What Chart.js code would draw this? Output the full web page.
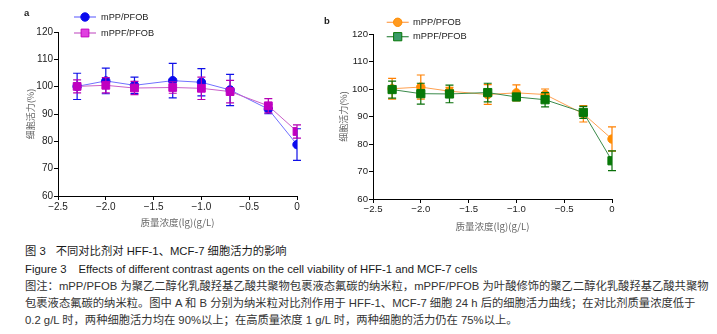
<!DOCTYPE html>
<html><head><meta charset="utf-8">
<script src="https://cdn.jsdelivr.net/npm/chart.js@4/dist/chart.umd.min.js"></script>
<style>
html,body{margin:0;padding:0;background:#fff;}
body{width:717px;height:334px;position:relative;overflow:hidden;font-family:"Liberation Sans",Arial,"Noto Sans CJK SC",sans-serif;}
canvas{position:absolute;top:0;}
.cap{position:absolute;left:25px;white-space:nowrap;line-height:14px;font-size:11.3px;color:#1a1a1a;}
.note{color:#333;}
.just{text-align:justify;text-align-last:justify;}
.panel{position:absolute;font-family:"Liberation Sans",Arial,sans-serif;font-size:9.5px;font-weight:bold;color:#222;line-height:10px;}
</style></head><body>
<canvas id="ca" width="320" height="232" style="left:0;width:320px;height:232px"></canvas>
<canvas id="cb" width="320" height="235" style="left:320px;width:320px;height:235px"></canvas>
<div class="panel" style="left:24px;top:8px">a</div>
<div class="panel" style="left:324px;top:16px">b</div>
<div class="cap" style="top:244px">图 3<span style="display:inline-block;width:10px"></span>不同对比剂对 HFF-1、MCF-7 细胞活力的影响</div>
<div class="cap" style="top:262px">Figure 3<span style="display:inline-block;width:12px"></span>Effects of different contrast agents on the cell viability of HFF-1 and MCF-7 cells</div>
<div class="cap note just" style="top:279px;width:662px">图注：mPP/PFOB 为聚乙二醇化乳酸羟基乙酸共聚物包裹液态氟碳的纳米粒，mPPF/PFOB 为叶酸修饰的聚乙二醇化乳酸羟基乙酸共聚物</div>
<div class="cap note just" style="top:296px;width:654px">包裹液态氟碳的纳米粒。图中 A 和 B 分别为纳米粒对比剂作用于 HFF-1、MCF-7 细胞 24 h 后的细胞活力曲线；在对比剂质量浓度低于</div>
<div class="cap note" style="top:313px">0.2 g/L 时，两种细胞活力均在 90%以上；在高质量浓度 1 g/L 时，两种细胞的活力仍在 75%以上。</div>
<script>
// ---- data ----
const seriesNames = ['mPP/PFOB', 'mPPF/PFOB'];
const logConc = [-2.3, -2.0, -1.7, -1.3, -1.0, -0.7, -0.3, 0];
const xTickLabels = ['\u22122.5', '\u22122.0', '\u22121.5', '\u22121.0', '\u22120.5', '0'];
const yTickLabels = ['60', '70', '80', '90', '100', '110', '120'];
const xTitle = '质量浓度(lg)(g/L)';
const yTitle = '细胞活力(%)';
// panel a (HFF-1)
const aPP = [100.1, 102.1, 100.5, 102.2, 101.6, 98.8, 91.8, 78.8];
const aPPerr = [4.8, 4.7, 3.0, 6.3, 5.0, 5.7, 1.7, 5.8];
const aPPF = [100.1, 100.5, 99.5, 99.7, 99.4, 98.2, 93.0, 83.6];
const aPPFerr = [2.4, 2.8, 2.4, 2.1, 4.1, 4.1, 2.6, 2.4];
// panel b (MCF-7)
const bPP = [100.1, 100.7, 99.2, 98.0, 98.6, 98.0, 91.0, 81.8];
const bPPerr = [3.8, 4.4, 1.4, 3.6, 2.9, 2.0, 3.0, 4.4];
const bPPF = [99.8, 98.3, 98.2, 98.7, 97.1, 96.1, 91.5, 73.9];
const bPPFerr = [3.1, 3.8, 3.2, 3.4, 1.0, 2.6, 2.2, 3.6];

const LAT = '"Liberation Sans", Arial, sans-serif';
const CJK = '"Noto Sans CJK SC", "Liberation Sans", sans-serif';
Chart.defaults.color = '#222';
Chart.defaults.font.family = LAT;

const pts = vals => vals.map((v, i) => ({x: logConc[i], y: v}));

const errorBars = {
  id: 'errorBars',
  beforeDatasetDraw(chart, args) {
    const ds = chart.data.datasets[args.index];
    if (!ds.errors) return;
    const ctx = chart.ctx, xs = chart.scales.x, ys = chart.scales.y;
    ctx.save();
    ctx.strokeStyle = ds.errorColor;
    ctx.lineWidth = 1.2;
    ds.data.forEach((p, i) => {
      const e = ds.errors[i];
      const px = xs.getPixelForValue(p.x);
      const t = ys.getPixelForValue(p.y + e), b = ys.getPixelForValue(p.y - e);
      ctx.beginPath();
      ctx.moveTo(px, t); ctx.lineTo(px, b);
      ctx.moveTo(px - 4, t); ctx.lineTo(px + 4, t);
      ctx.moveTo(px - 4, b); ctx.lineTo(px + 4, b);
      ctx.stroke();
    });
    ctx.restore();
  }
};

const sideLegend = {
  id: 'sideLegend',
  afterDraw(chart, args, o) {
    const ctx = chart.ctx;
    chart.data.datasets.forEach((ds, i) => {
      const cy = o.y + i * o.dy;
      ctx.save();
      ctx.strokeStyle = ds.borderColor;
      ctx.lineWidth = 1.2;
      ctx.beginPath(); ctx.moveTo(o.x - 11, cy); ctx.lineTo(o.x + 11, cy); ctx.stroke();
      ctx.fillStyle = ds.legendFill || ds.pointBackgroundColor;
      ctx.strokeStyle = ds.pointBorderColor;
      ctx.lineWidth = 1;
      Chart.helpers.drawPoint(ctx, {pointStyle: ds.pointStyle, radius: ds.pointRadius, borderWidth: 1, rotation: 0}, o.x, cy);
      ctx.fillStyle = '#222';
      ctx.font = o.size + 'px ' + LAT;
      ctx.textBaseline = 'middle';
      ctx.textAlign = 'left';
      ctx.fillText(ds.label, o.textX, cy);
      ctx.restore();
    });
  }
};

function scales(o) {
  return {
    x: {
      type: 'linear', min: -2.5, max: 0,
      afterFit(s) { s.height = 35; },
      border: {display: true, color: '#000', width: 1},
      grid: {display: true, drawOnChartArea: false, drawTicks: true, tickLength: 4, color: '#000'},
      ticks: {stepSize: 0.5, autoSkip: false, maxRotation: 0, padding: 1, color: '#222',
        font: {size: o.tick, family: LAT}, callback: (v, i) => xTickLabels[i]},
      title: {display: true, text: xTitle, color: '#666', font: {size: 9.5, family: CJK},
        padding: {top: 3, bottom: o.xtPad}}
    },
    y: {
      type: 'linear', min: 60, max: 120,
      afterFit(s) { s.width = o.yW; },
      border: {display: true, color: '#000', width: 1},
      grid: {display: true, drawOnChartArea: false, drawTicks: true, tickLength: 4, color: '#000'},
      ticks: {stepSize: 10, padding: 1, color: '#222', font: {size: o.tick, family: LAT},
        callback: (v, i) => yTickLabels[i]},
      title: {display: true, text: yTitle, color: '#666', font: {size: 9, family: CJK},
        padding: {top: o.ytPad, bottom: 0}}
    }
  };
}

function ds(label, vals, errs, c) {
  return {
    label, data: pts(vals), errors: errs, errorColor: c.err,
    borderColor: c.line, borderWidth: 1, tension: 0,
    pointStyle: c.style, pointRadius: c.r, pointHoverRadius: c.r,
    pointBackgroundColor: c.pt, pointBorderColor: c.pt, pointBorderWidth: 1,
    legendFill: c.legend, order: c.order
  };
}

new Chart(document.getElementById('ca'), {
  type: 'line',
  data: {datasets: [
    ds(seriesNames[0], aPP, aPPerr, {err: '#1010e8', line: '#7070ff', style: 'circle', r: 4.2, pt: '#0a0aee', order: 1}),
    ds(seriesNames[1], aPPF, aPPFerr, {err: '#b400b4', line: '#c860c8', style: 'rect', r: 5.5, pt: '#c000c0', legend: '#e040e0', order: 0})
  ]},
  options: {
    responsive: false, animation: false, events: [],
    layout: {padding: {left: 0, right: 23, top: 32, bottom: 1}},
    scales: scales({tick: 10, yW: 58, ytPad: 25.5, xtPad: 2.6}),
    plugins: {legend: {display: false}, tooltip: {enabled: false},
      sideLegend: {x: 85, y: 17, dy: 16, textX: 101, size: 9.2}}
  },
  plugins: [errorBars, sideLegend]
});

new Chart(document.getElementById('cb'), {
  type: 'line',
  data: {datasets: [
    ds(seriesNames[0], bPP, bPPerr, {err: '#ff8000', line: '#ffa050', style: 'circle', r: 4.2, pt: '#ff8c00', legend: '#ff9a20', order: 1}),
    ds(seriesNames[1], bPPF, bPPFerr, {err: '#0a700a', line: '#3a8a4a', style: 'rect', r: 5.8, pt: '#087808', legend: '#3a9a6a', order: 0})
  ]},
  options: {
    responsive: false, animation: false, events: [],
    layout: {padding: {left: 0, right: 28, top: 34, bottom: 1}},
    scales: scales({tick: 9.6, yW: 53, ytPad: 18.6, xtPad: 1.6}),
    plugins: {legend: {display: false}, tooltip: {enabled: false},
      sideLegend: {x: 77.7, y: 22.3, dy: 14.4, textX: 93, size: 9.3}}
  },
  plugins: [errorBars, sideLegend]
});
</script>
</body></html>
